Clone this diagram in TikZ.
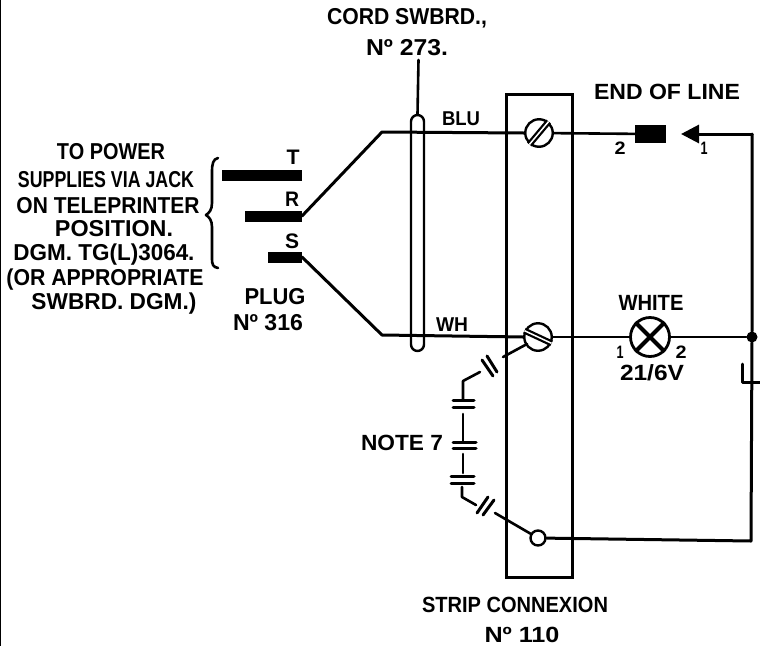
\documentclass[tikz,border=0pt]{standalone}
\usepackage{graphicx}
\usepackage{fontspec}
\setmainfont{Liberation Sans}
\usetikzlibrary{arrows.meta}
\newcommand{\fitw}[3]{\resizebox{#1pt}{\height}{\fontsize{#2pt}{#2pt}\selectfont\bfseries #3}}
\tikzset{
  wire/.style={line width=2.6pt,line cap=round,line join=round},
  heavy/.style={line width=3pt,line cap=round,line join=round},
  bar/.style={line width=11pt,line cap=butt},
  plate/.style={line width=3pt,line cap=round},
  lab/.style={inner sep=0pt,outer sep=0pt,anchor=center,text=black},
  screwhead/.style={circle,draw,line width=2.4pt,minimum size=27.5pt,inner sep=0pt},
  termhead/.style={circle,draw,line width=2.4pt,minimum size=15pt,inner sep=0pt},
  lamphead/.style={circle,draw,line width=2.8pt,minimum size=39pt,inner sep=0pt},
  stripbox/.style={draw,line width=3pt,minimum width=66pt,minimum height=483pt,inner sep=0pt},
  cordbox/.style={draw,line width=2.4pt,rounded corners=6.5pt,minimum width=13pt,minimum height=236pt,inner sep=0pt},
  blockhead/.style={draw,fill=black,minimum width=30pt,minimum height=17pt,inner sep=0pt},
  joint/.style={circle,fill=black,minimum size=11pt,inner sep=0pt},
}
\begin{document}
\begin{tikzpicture}[x=1pt,y=-1pt]
\useasboundingbox (0,0) rectangle (760,646);
\fill[white] (0,0) rectangle (760,646);
\draw[line width=1pt] (0.5,0) -- (0.5,646);

% named points
\coordinate (tL) at (222,175); \coordinate (tR) at (302,175);
\coordinate (rL) at (245,216); \coordinate (rR) at (302,216);
\coordinate (sL) at (268,257); \coordinate (sR) at (302,257);
\coordinate (bend1) at (382,132);
\coordinate (bend2) at (382,335);
\coordinate (leadtop) at (418.5,60);
\coordinate (tip) at (681,134);
\coordinate (corner1) at (752,134);
\coordinate (corner2) at (751,541);

% nodes
\node[stripbox] (strip) at (539,335.5) {};
\node[cordbox] (cord) at (417.5,233) {};
\node[screwhead] (sc1) at (539,133) {};
\node[screwhead] (sc2) at (538,337) {};
\node[termhead] (term) at (538,538) {};
\node[lamphead] (lamp) at (650,337) {};
\node[blockhead] (blk) at (650.5,134) {};
\node[joint] (dot) at (752,337) {};

% screw slots
\draw[line width=6pt] (sc1.230) -- (sc1.50);
\draw[line width=1.5pt,white] (sc1.230) -- (sc1.50);
\draw[line width=6pt] (sc2.155) -- (sc2.-25);
\draw[line width=1.5pt,white] (sc2.155) -- (sc2.-25);
% lamp cross
\draw[line width=4pt] (lamp.45) -- (lamp.225);
\draw[line width=4pt] (lamp.135) -- (lamp.-45);

% plug
\draw[bar] (tL) -- (tR);
\draw[bar] (rL) -- (rR);
\draw[bar] (sL) -- (sR);
\draw[heavy] (rR) -- (bend1) -- (sc1.west);
\draw[heavy] (sR) -- (bend2) -- (sc2.west);
\draw[wire] (leadtop) -- (cord.north);

% line
\draw[wire] (sc1) -- (blk);
\draw[wire] (sc2) -- (lamp);
\draw[wire] (lamp) -- (dot);
\draw[heavy,-{Triangle[length=18pt,width=18pt]}] (corner1) -- (tip);
\draw[heavy] (corner1) -- (dot) -- (corner2) -- (term);
\draw[heavy] (742,364) -- (742,382) -- (760,382);

% capacitor chain
\coordinate (c1a) at (503,357);
\draw[wire] (sc2) ++(-11,7) -- (c1a);
\draw[plate] (487,356) -- (497,372);
\draw[plate] (482,360) -- (493,376);
\draw[wire] (480,372) -- (463,381) -- (463,399);
\draw[plate] (453,400) -- (474,400);
\draw[plate] (453,407) -- (474,407);
\draw[wire] (463,414) -- (463,441);
\draw[plate] (453,442) -- (476,442);
\draw[plate] (453,448) -- (476,448);
\draw[wire] (463,454) -- (463,473);
\draw[plate] (451,476) -- (474,476);
\draw[plate] (451,483) -- (474,483);
\draw[wire] (462,487) -- (462,497) -- (476,505);
\draw[plate] (494,500) -- (483,515);
\draw[plate] (488,497) -- (477,513);
\draw[wire] (495,513) -- (term.150);

% brace
\draw[wire] (218,158) .. controls (213,159) and (212,164) .. (212,172) -- (212,203)
  .. controls (212,210) and (209,213) .. (206,215)
  .. controls (209,217) and (212,220) .. (212,227) -- (212,258)
  .. controls (212,265) and (213,267) .. (218,268);

% labels
\node[lab] (l1) at (407,18) {\fitw{160}{23}{CORD SWBRD.,}};
\node[lab] (l2) at (407,48) {\fitw{82}{23}{Nº 273.}};
\node[lab] (l3) at (461,119) {\fitw{38}{20}{BLU}};
\node[lab] (l4) at (452,325) {\fitw{32}{20}{WH}};
\node[lab] (l5) at (667,92) {\fitw{146}{22}{END OF LINE}};
\node[lab] (l6) at (620,148) {\fitw{11}{18}{2}};
\node[lab] (l7) at (704,148) {\fitw{7}{18}{1}};
\node[lab] (l8) at (651,303) {\fitw{65}{22}{WHITE}};
\node[lab] (l9) at (620,352) {\fitw{7}{18}{1}};
\node[lab] (l10) at (681,352) {\fitw{11}{18}{2}};
\node[lab] (l11) at (652,373) {\fitw{64}{22}{21/6V}};
\node[lab] (l12) at (293,157) {\fitw{13}{21}{T}};
\node[lab] (l13) at (292,199) {\fitw{14}{21}{R}};
\node[lab] (l14) at (292,241) {\fitw{14}{21}{S}};
\node[lab] (l15) at (275,297) {\fitw{61}{23}{PLUG}};
\node[lab] (l16) at (268,323) {\fitw{70}{23}{Nº 316}};
\node[lab] (l17) at (111,152) {\fitw{108}{23}{TO POWER}};
\node[lab] (l18) at (106,180) {\fitw{176}{23}{SUPPLIES VIA JACK}};
\node[lab] (l19) at (108,206) {\fitw{183}{23}{ON TELEPRINTER}};
\node[lab] (l20) at (114,229) {\fitw{118}{23}{POSITION.}};
\node[lab] (l21) at (104,255) {\fitw{181}{23}{DGM. TG(L)3064.}};
\node[lab] (l22) at (105,280) {\fitw{197}{23}{(OR APPROPRIATE}};
\node[lab] (l23) at (114,304) {\fitw{165}{23}{SWBRD. DGM.)}};
\node[lab] (l24) at (402,443) {\fitw{82}{22}{NOTE 7}};
\node[lab] (l25) at (515,605) {\fitw{186}{22}{STRIP CONNEXION}};
\node[lab] (l26) at (522,635) {\fitw{75}{22}{Nº 110}};
\end{tikzpicture}
\end{document}
